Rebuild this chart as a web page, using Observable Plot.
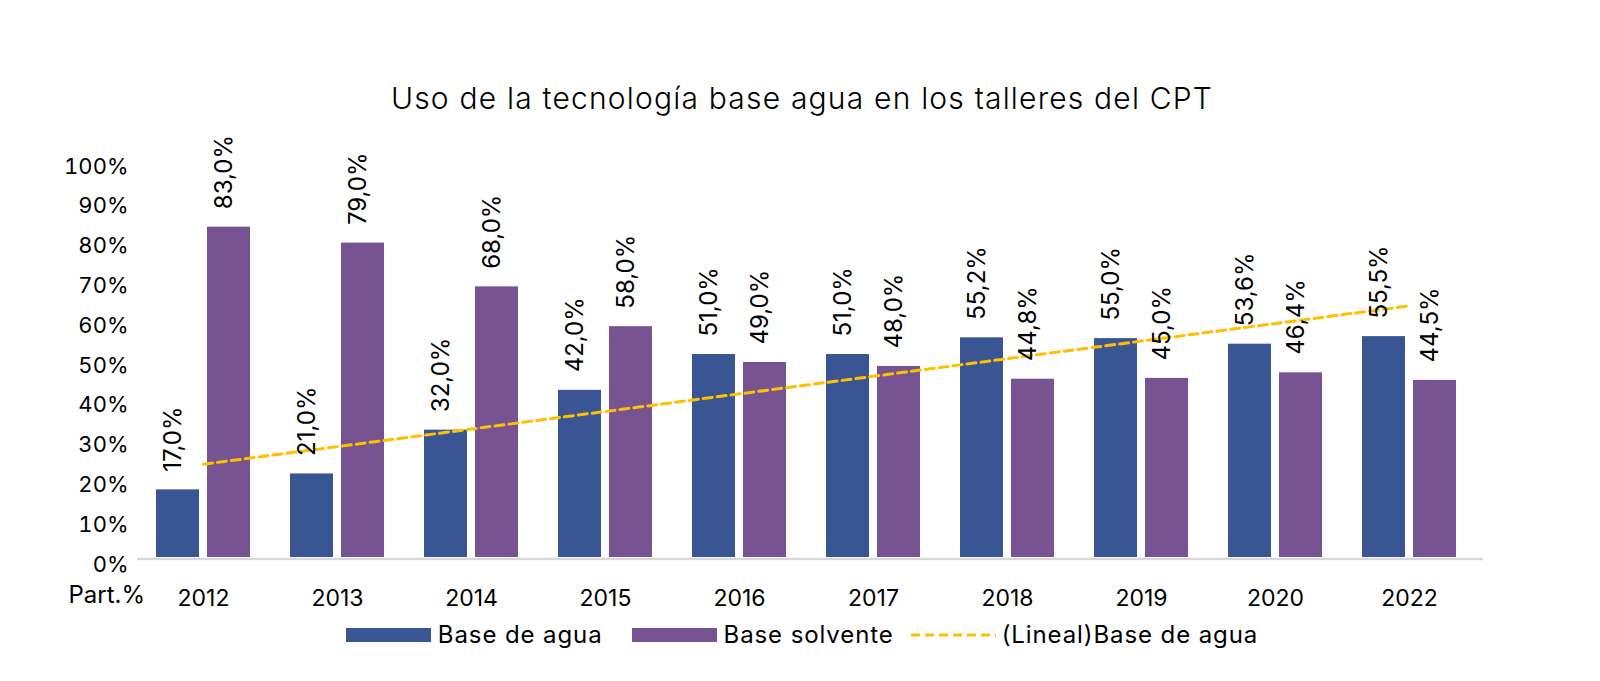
<!DOCTYPE html>
<html>
<head>
<meta charset="utf-8">
<script src="https://cdn.jsdelivr.net/npm/d3@7"></script>
<script src="https://cdn.jsdelivr.net/npm/@observablehq/plot@0.6"></script>
<style>
  html, body { margin: 0; padding: 0; background: #fff; }
  body { width: 1600px; height: 681px; position: relative; overflow: hidden; font-family: Inter, "Open Sans", sans-serif; color: #000; }
  #title { position: absolute; top: 79px; left: 0; width: 1600px; text-align: center; font-size: 30px; line-height: 38px; letter-spacing: 1.2px; padding-left: 4px; box-sizing: border-box; font-weight: 300; }
  #chart { position: absolute; top: 120px; left: 0; }
  #legend { position: absolute; top: 621px; left: 0; width: 1600px; display: flex; justify-content: center; align-items: center; font-size: 24px; line-height: 28px; letter-spacing: 0.9px; padding-left: 4px; box-sizing: border-box; }
  .item { display: flex; align-items: center; }
  .sw { width: 85px; height: 14px; margin-right: 7px; }
</style>
</head>
<body>
<div id="title">Uso de la tecnología base agua en los talleres del CPT</div>
<div id="chart"></div>
<div id="legend"></div>
<script>
const years = ["2012", "2013", "2014", "2015", "2016", "2017", "2018", "2019", "2020", "2022"];
const baseAgua = [17.0, 21.0, 32.0, 42.0, 51.0, 51.0, 55.2, 55.0, 53.6, 55.5];
const baseSolvente = [83.0, 79.0, 68.0, 58.0, 49.0, 48.0, 44.8, 45.0, 46.4, 44.5];
const yTicks = [0, 10, 20, 30, 40, 50, 60, 70, 80, 90, 100];
const seriesNames = ["Base de agua", "Base solvente", "(Lineal)Base de agua"];
const colors = ["#3A5594", "#775392", "#FFC000"];

const data = years.map((year, i) => ({year, agua: baseAgua[i], solvente: baseSolvente[i], i}));

// linear trend of Base de agua (least squares over year index)
const mx = d3.mean(data, d => d.i), my = d3.mean(baseAgua);
const slope = d3.sum(data, d => (d.i - mx) * (d.agua - my)) / d3.sum(data, d => (d.i - mx) ** 2);
const intercept = my - slope * mx;
const trend = data.map(d => ({year: d.year, value: intercept + slope * d.i}));

const fmt = v => v.toFixed(1).replace(".", ",") + "%";
const font = "Inter, 'Open Sans', sans-serif";

const chart = Plot.plot({
  width: 1600,
  height: 500,
  marginLeft: 137,
  marginRight: 117,
  marginTop: 39,
  marginBottom: 63,
  style: {fontFamily: font, fontSize: "22px", color: "#000", background: "transparent", overflow: "visible"},
  x: {type: "band", domain: years, paddingInner: 0.3, paddingOuter: 0.172, align: 0.41, label: null},
  y: {domain: [0, 100], label: null},
  marks: [
    Plot.barY(data, {x: "year", y: "agua", fill: colors[0], insetRight: 51}),
    Plot.barY(data, {x: "year", y: "solvente", fill: colors[1], insetLeft: 51}),
    Plot.ruleY([0], {stroke: "#D9D9D9", strokeWidth: 2.5, dy: 1.5}),
    Plot.line(trend, {x: "year", y: "value", stroke: colors[2], strokeWidth: 3, strokeDasharray: "9,5"}),
    Plot.text(data, {x: "year", y: "agua", text: d => fmt(d.agua), rotate: -90, textAnchor: "start", dx: -30, dy: -18, fontSize: 24, fill: "#000"}),
    Plot.text(data, {x: "year", y: "solvente", text: d => fmt(d.solvente), rotate: -90, textAnchor: "start", dx: 21, dy: -18, fontSize: 24, fill: "#000"}),
    Plot.axisY({ticks: yTicks, tickFormat: d => d + "%", tickSize: 0, tickPadding: 9, dy: 7, fontSize: 22, label: null}),
    Plot.axisX({tickSize: 0, tickPadding: 32, fontSize: 23, label: null}),
    Plot.text(["Part.%"], {frameAnchor: "bottom-left", textAnchor: "start", dx: -69, dy: 45, fontSize: 24, fill: "#000"})
  ]
});
document.getElementById("chart").appendChild(chart);

const legend = document.getElementById("legend");
const gaps = [29, 17, 0];
seriesNames.forEach((name, k) => {
  const item = document.createElement("div");
  item.className = "item";
  item.style.marginRight = gaps[k] + "px";
  if (k < 2) {
    const sw = document.createElement("div");
    sw.className = "sw";
    sw.style.background = colors[k];
    item.appendChild(sw);
  } else {
    const svg = d3.create("svg").attr("width", 85).attr("height", 14).style("margin-right", "6px");
    svg.append("line").attr("x1", 0).attr("x2", 85).attr("y1", 7).attr("y2", 7)
      .attr("stroke", colors[2]).attr("stroke-width", 3).attr("stroke-dasharray", "9,5");
    item.appendChild(svg.node());
  }
  const t = document.createElement("span");
  t.textContent = name;
  item.appendChild(t);
  legend.appendChild(item);
});
</script>
</body>
</html>
